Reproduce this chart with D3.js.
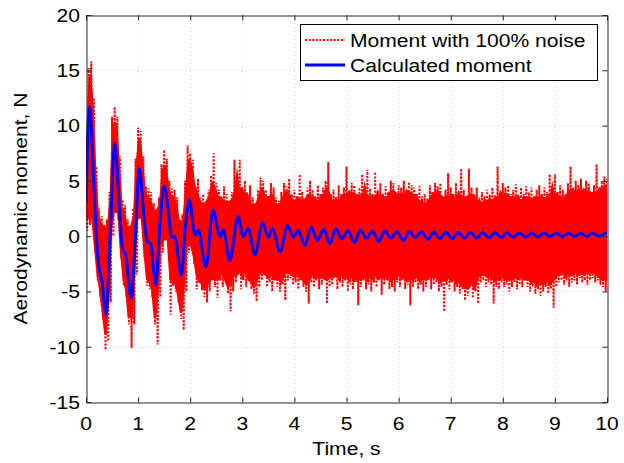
<!DOCTYPE html>
<html>
<head>
<meta charset="utf-8">
<script src="https://cdn.jsdelivr.net/npm/d3@7"></script>
<style>
  body { margin: 0; background: #fff; }
</style>
</head>
<body>
<svg id="chart" width="624" height="463"></svg>
<script>

// calculated moment (blue line), read at its turning points
const calcTime = [0, 0.07, 0.154, 0.217, 0.25, 0.313, 0.384, 0.474, 0.551, 0.633,
  0.697, 0.762, 0.869, 0.954, 1.023, 1.113, 1.177, 1.242, 1.338, 1.42,
  1.497, 1.593, 1.637, 1.703, 1.829, 1.914, 1.985, 2.09, 2.156, 2.30,
  2.44, 2.57, 2.635, 2.76, 2.92, 3.02, 3.115, 3.24, 3.39, 3.50,
  3.576, 3.724, 3.87, 3.98, 4.075, 4.20, 4.325, 4.44, 4.56, 4.68,
  4.795, 4.91, 5.03, 5.15, 5.265, 5.38, 5.50, 5.62, 5.735, 5.85,
  5.97, 6.09, 6.205, 6.32, 6.44, 6.56, 6.675, 6.79, 6.91, 7.03,
  7.145, 7.26, 7.38, 7.50, 7.615, 7.73, 7.85, 7.97, 8.085, 8.20,
  8.32, 8.44, 8.555, 8.67, 8.79, 8.91, 9.025, 9.14, 9.26, 9.38,
  9.495, 9.61, 9.73, 9.85, 9.965, 10.0];

const calcMoment = [3.0, 11.7, 4.2, -1.3, -2.8, -4.3, -7.1, 1.15, 8.4, 3.25,
  -1.0, -1.7, -5.6, 0.5, 6.1, 1.75, -0.5, -0.7, -4.4, 1.15,
  4.5, 1.75, -0.05, -0.05, -3.5, 1.15, 3.25, 0.1, 0.55, -2.8,
  2.35, -0.05, 0.55, -2.2, 1.75, -0.05, 0.7, -1.7, 1.2, -0.1,
  0.66, -1.4, 0.97, -0.1, 0.5, -0.85, 0.8, -0.39, 0.6, -0.7,
  0.66, -0.24, 0.51, -0.6, 0.55, -0.18, 0.45, -0.48, 0.48, -0.18,
  0.4, -0.4, 0.42, -0.12, 0.40, -0.30, 0.38, -0.22, 0.36, -0.25,
  0.35, -0.18, 0.33, -0.18, 0.32, -0.14, 0.31, -0.12, 0.30, -0.10,
  0.29, -0.08, 0.28, -0.07, 0.28, -0.05, 0.27, -0.05, 0.27, -0.03,
  0.26, -0.03, 0.26, -0.02, 0.25, 0.2];

// moment with noise (red): top and bottom of the trace in every 0.05 s slot
const noiseStep = 0.05;

const noiseHigh = [3.5, 15.2, 15.8, 12.5, 6.3, 2.5, 1.8, 1.0, 1.5, 4.0,
  10.8, 11.7, 10.8, 7.2, 3.3, 2.8, 1.5, 1.0, 2.5, 7.0,
  9.8, 9.5, 7.2, 4.5, 4.3, 4.0, 3.0, 1.0, 3.5, 6.5,
  7.8, 7.0, 5.0, 4.3, 4.2, 3.5, 1.5, 2.0, 5.0, 8.2,
  7.5, 6.9, 4.5, 5.2, 3.5, 3.8, 2.5, 4.2, 5.5, 7.5,
  4.8, 4.2, 3.5, 4.5, 3.8, 3.0, 4.0, 6.9, 5.0, 6.9,
  4.5, 5.0, 3.8, 4.6, 3.5, 3.0, 4.2, 5.3, 5.0, 4.2,
  3.6, 4.8, 4.4, 3.5, 3.2, 4.0, 4.8, 4.5, 5.2, 3.8,
  4.2, 3.6, 5.6, 4.0, 3.4, 4.4, 5.0, 4.2, 3.6, 4.6,
  3.8, 4.4, 5.0, 6.7, 3.8, 4.2, 3.5, 4.6, 3.8, 4.4,
  6.3, 4.0, 4.8, 4.6, 3.6, 4.4, 5.6, 4.2, 6.0, 4.3,
  3.8, 5.8, 4.2, 4.8, 3.6, 4.5, 4.0, 5.0, 4.8, 3.8,
  4.6, 4.4, 5.0, 3.8, 4.9, 4.6, 4.4, 3.8, 4.5, 3.6,
  3.8, 3.4, 4.6, 4.0, 4.8, 4.5, 4.8, 3.6, 4.2, 5.7,
  4.4, 3.8, 4.8, 4.0, 6.1, 4.2, 3.6, 6.1, 4.4, 3.8,
  4.4, 3.5, 4.0, 3.6, 4.2, 3.8, 4.4, 3.6, 6.3, 4.0,
  4.8, 4.4, 4.6, 3.8, 4.2, 4.7, 3.6, 4.4, 3.8, 4.5,
  4.0, 4.4, 3.6, 4.2, 4.6, 3.8, 4.4, 4.0, 5.6, 4.4,
  5.6, 4.0, 4.6, 4.2, 3.8, 4.8, 6.3, 4.4, 5.0, 4.6,
  5.2, 4.2, 5.0, 4.8, 4.0, 4.6, 6.5, 4.4, 5.0, 5.4,
  5.2];

const noiseLow = [0.5, 1.0, 4.0, -1.5, -4.0, -5.5, -7.5, -10.3, -9.5, -6.0,
  0.0, 4.5, 1.5, -2.0, -4.5, -5.5, -8.0, -10.1, -8.0, -3.5,
  1.5, 1.0, -2.0, -4.5, -4.8, -5.5, -8.0, -9.8, -5.5, -1.5,
  0.5, -1.0, -7.1, -4.5, -5.0, -6.0, -7.5, -8.5, -5.0, -1.5,
  -1.0, -2.5, -4.8, -4.0, -4.9, -5.5, -6.0, -5.0, -3.5, -4.6,
  -5.6, -4.0, -4.6, -3.8, -5.2, -6.8, -5.0, -4.2, -3.4, -4.8,
  -4.0, -4.6, -3.8, -4.8, -5.2, -5.9, -4.6, -4.0, -3.6, -4.6,
  -4.2, -5.0, -4.0, -4.6, -5.0, -4.4, -5.8, -4.0, -3.8, -4.4,
  -4.2, -4.8, -3.8, -4.6, -5.0, -6.1, -4.2, -4.6, -4.0, -4.8,
  -4.4, -4.0, -6.1, -4.6, -4.4, -3.8, -4.8, -4.2, -4.6, -4.0,
  -5.0, -4.4, -4.8, -4.2, -6.25, -4.6, -4.0, -4.8, -4.4, -5.0,
  -4.2, -4.6, -4.0, -5.3, -4.4, -4.0, -4.8, -4.6, -5.0, -4.2,
  -4.6, -4.0, -4.8, -4.4, -6.25, -4.6, -4.2, -4.8, -4.4, -5.0,
  -4.6, -4.0, -4.8, -4.4, -4.2, -5.0, -4.6, -6.8, -4.4, -4.8,
  -4.2, -5.0, -4.6, -5.2, -4.8, -5.8, -5.4, -4.6, -5.6, -5.0,
  -6.1, -4.2, -4.0, -4.6, -4.2, -4.4, -6.1, -4.6, -4.8, -4.2,
  -4.6, -4.4, -5.0, -4.6, -4.2, -4.8, -4.4, -4.6, -4.0, -4.6,
  -5.0, -4.6, -5.2, -4.8, -5.4, -5.0, -4.6, -5.2, -4.8, -6.45,
  -4.6, -4.2, -4.0, -4.4, -4.0, -4.6, -4.2, -4.0, -4.4, -3.8,
  -4.2, -4.0, -4.4, -4.0, -3.8, -4.2, -4.0, -4.4, -4.6, -5.0,
  -4.4];

const xTicks = [0, 1, 2, 3, 4, 5, 6, 7, 8, 9, 10];
const yTicks = [-15, -10, -5, 0, 5, 10, 15, 20];
const legendLabels = ["Moment with 100% noise", "Calculated moment"];



//--------------------------------------
// SETUP
//--------------------------------------

const svg = d3.select("#chart");
const fontFamily = "Liberation Sans, Arial, Helvetica, sans-serif";
const fontSize = 19;
const fontStretch = 1.11;

const plot = { left: 86, right: 607, top: 15, bottom: 402 };

const x = d3.scaleLinear().domain([0, 10]).range([plot.left, plot.right]);
const y = d3.scaleLinear().domain([-15, 20]).range([plot.bottom, plot.top]);

svg.append("rect").attr("width", 624).attr("height", 463).attr("fill", "#fff");

svg.append("defs").append("clipPath").attr("id", "plotClip")
  .append("rect")
  .attr("x", plot.left).attr("y", plot.top)
  .attr("width", plot.right - plot.left).attr("height", plot.bottom - plot.top);


function addText(str, tx, ty, anchor, rotate) {
  var tr = "translate(" + tx + "," + ty + ")";
  if (rotate) tr += " rotate(" + rotate + ")";
  tr += " scale(" + fontStretch + ",1)";
  return svg.append("text")
    .attr("transform", tr)
    .attr("text-anchor", anchor)
    .style("font-family", fontFamily)
    .style("font-size", fontSize + "px")
    .attr("fill", "#000")
    .text(str);
}



//--------------------------------------
// GRID
//--------------------------------------

var grid = svg.append("g").attr("class", "grid");

grid.selectAll("line.gx").data(xTicks.slice(1, -1)).enter().append("line")
  .attr("x1", function(d){ return Math.round(x(d)) + 0.5; })
  .attr("x2", function(d){ return Math.round(x(d)) + 0.5; })
  .attr("y1", plot.top).attr("y2", plot.bottom)
  .attr("stroke", "#d4d4d4").attr("stroke-dasharray", "1,3");

grid.selectAll("line.gy").data(yTicks.slice(1, -1)).enter().append("line")
  .attr("y1", function(d){ return Math.round(y(d)) + 0.5; })
  .attr("y2", function(d){ return Math.round(y(d)) + 0.5; })
  .attr("x1", plot.left).attr("x2", plot.right)
  .attr("stroke", "#d4d4d4").attr("stroke-dasharray", "1,3");



//--------------------------------------
// NOISY MOMENT (red)
//--------------------------------------

var noiseData = noiseHigh.map(function(hi, i) {
  return { t: i * noiseStep, hi: hi, lo: noiseLow[i] };
});

// solid middle of the trace, where the dense samples overlap:
// median of neighbouring slots, pulled in so the dotted fringe shows
var fringe = 0.6;

function coreEdges(i) {
  var hi = d3.median(noiseHigh.slice(Math.max(0, i - 1), i + 2)) - fringe;
  var lo = d3.median(noiseLow.slice(Math.max(0, i - 1), i + 2)) + fringe;
  if (hi < lo) { hi = lo = (hi + lo) / 2; }
  return [lo, hi];
}

var coreArea = d3.area()
  .x(function(d){ return x(d.t); })
  .y0(function(d, i){ return y(coreEdges(i)[0]); })
  .y1(function(d, i){ return y(coreEdges(i)[1]); });

var dataLayer = svg.append("g").attr("clip-path", "url(#plotClip)");

dataLayer.append("path")
  .datum(noiseData)
  .attr("d", coreArea)
  .attr("fill", "#ff0000");

// zigzag through top and bottom of each slot, dotted like the original
var zigzag = [];
noiseData.forEach(function(d) {
  zigzag.push([d.t, d.hi]);
  zigzag.push([d.t + noiseStep / 2, d.lo]);
});

dataLayer.append("path")
  .datum(zigzag)
  .attr("d", d3.line()
    .x(function(d){ return x(d[0]); })
    .y(function(d){ return y(d[1]); }))
  .attr("fill", "none")
  .attr("stroke", "#ff0000")
  .attr("stroke-width", 2)
  .attr("stroke-dasharray", "2,1.6");



//--------------------------------------
// CALCULATED MOMENT (blue)
//--------------------------------------

var calcData = calcTime.map(function(t, i){ return [t, calcMoment[i]]; });

dataLayer.append("path")
  .datum(calcData)
  .attr("d", d3.line()
    .curve(d3.curveMonotoneX)
    .x(function(d){ return x(d[0]); })
    .y(function(d){ return y(d[1]); }))
  .attr("fill", "none")
  .attr("stroke", "#0000ff")
  .attr("stroke-width", 3)
  .attr("stroke-linejoin", "round");



//--------------------------------------
// AXES
//--------------------------------------

var tickLen = 5;
var axisColor = "#262626";

svg.append("g")
  .attr("transform", "translate(0," + (plot.bottom + 0.5) + ")")
  .call(d3.axisBottom(x).tickValues(xTicks).tickSizeInner(-tickLen).tickSizeOuter(0).tickFormat(""))
  .call(function(g){ g.selectAll("line,path").attr("stroke", axisColor); });

svg.append("g")
  .attr("transform", "translate(0," + (plot.top + 0.5) + ")")
  .call(d3.axisTop(x).tickValues(xTicks).tickSizeInner(-tickLen).tickSizeOuter(0).tickFormat(""))
  .call(function(g){ g.selectAll("line,path").attr("stroke", axisColor); });

svg.append("g")
  .attr("transform", "translate(" + (plot.left + 0.5) + ",0)")
  .call(d3.axisLeft(y).tickValues(yTicks).tickSizeInner(-tickLen).tickSizeOuter(0).tickFormat(""))
  .call(function(g){ g.selectAll("line,path").attr("stroke", axisColor); });

svg.append("g")
  .attr("transform", "translate(" + (plot.right + 0.5) + ",0)")
  .call(d3.axisRight(y).tickValues(yTicks).tickSizeInner(-tickLen).tickSizeOuter(0).tickFormat(""))
  .call(function(g){ g.selectAll("line,path").attr("stroke", axisColor); });

xTicks.forEach(function(d){
  addText(String(d), x(d), 430, "middle");
});

yTicks.forEach(function(d){
  addText(String(d), plot.left - 6, y(d) + 6.8, "end");
});

addText("Time, s", (plot.left + plot.right) / 2, 455, "middle");
addText("Aerodynamic moment, N", 27, (plot.top + plot.bottom) / 2, "middle", -90);



//--------------------------------------
// LEGEND
//--------------------------------------

var legend = svg.append("g");

legend.append("rect")
  .attr("x", 300.5).attr("y", 24.5)
  .attr("width", 297).attr("height", 56)
  .attr("fill", "#fff").attr("stroke", "#000").attr("stroke-width", 1);

var legendStyles = [
  { color: "#ff0000", width: 2, dash: "2,1.6" },
  { color: "#0000ff", width: 3, dash: null }
];

legendLabels.forEach(function(label, i) {
  var ly = 40 + i * 25;
  legend.append("line")
    .attr("x1", 305).attr("x2", 345)
    .attr("y1", ly).attr("y2", ly)
    .attr("stroke", legendStyles[i].color)
    .attr("stroke-width", legendStyles[i].width)
    .attr("stroke-dasharray", legendStyles[i].dash);
  addText(label, 350, ly + 6.8, "start");
});

</script>
</body>
</html>
